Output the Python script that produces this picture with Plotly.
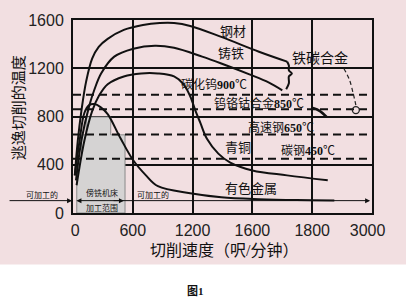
import plotly.graph_objects as go

# ---- data (x in equal-spaced tick index units; y in degrees) ----
tick_labels = ["\u00a00", "600", "1200", "1600", "1800", "3000\u00a0\u00a0"]
tick_pos = [0, 1, 2, 3, 4, 5]
y_ticks = [0, 400, 800, 1200, 1600]

steel_x = [0.03, 0.08, 0.14, 0.22, 0.32, 0.43, 0.58, 0.85, 1.17, 1.45, 1.69, 1.96, 2.48, 3.11, 3.58]
steel_y = [312, 599, 845, 1091, 1280, 1378, 1444, 1518, 1559, 1575, 1575, 1551, 1460, 1337, 1255]

iron_x = [0.05, 0.14, 0.27, 0.36, 0.47, 0.69, 1.01, 1.37, 1.69, 2.16, 2.48, 2.95, 3.27, 3.50]
iron_y = [271, 599, 886, 1026, 1157, 1296, 1362, 1387, 1370, 1296, 1239, 1149, 1083, 1017]

bronze_x = [0.06, 0.19, 0.32, 0.43, 0.58, 0.85, 1.14, 1.42, 1.69, 1.85, 1.96, 2.05, 2.13, 2.24, 2.43, 2.63, 3.00, 3.58, 4.26]
bronze_y = [230, 599, 845, 968, 1067, 1132, 1157, 1157, 1132, 1067, 968, 845, 747, 615, 492, 418, 353, 312, 271]

nonfer_x = [0.03, 0.11, 0.19, 0.27, 0.36, 0.46, 0.58, 0.79, 1.01, 1.22, 1.42, 1.96, 2.48, 3.11, 3.74, 4.37]
nonfer_y = [312, 599, 829, 894, 903, 878, 820, 624, 435, 312, 222, 164, 131, 115, 107, 104]

bracket_x = [3.58, 3.61, 3.61, 3.66, 3.61, 3.61, 3.565]
bracket_y = [1255, 1223, 1182, 1157, 1132, 1075, 1026]

fec_dash_x = [4.53, 4.62, 4.685, 4.73]
fec_dash_y = [1198, 1108, 993, 894]
fec_circle_x = [4.73]
fec_circle_y = [853]

arc_x = [4.01, 4.13, 4.24]
arc_y = [870, 845, 796]

limit_vals = [980, 860, 650, 450]   # dashed temperature limits

gray_x = [0.063, 0.063, 0.142, 0.142, 0.221, 0.221, 0.631, 0.631, 0.87, 0.87, 0.063]
gray_y = [0, 451, 451, 648, 648, 796, 796, 648, 648, 0, 0]

labels = [
    ("钢材", 2.68, 1502, 13),
    ("铸铁", 2.65, 1321, 13),
    ("碳化钨<b>900</b>℃", 2.35, 1067, 12),
    ("钨铬钴合金<b>850</b>℃", 3.11, 911, 12),
    ("高速钢<b>650</b>℃", 3.47, 706, 12),
    ("青铜", 2.76, 542, 13),
    ("碳钢<b>450</b>℃", 3.93, 517, 12),
    ("有色金属", 2.98, 205, 13),
    ("铁碳合金", 4.13, 1280, 14),
]

PINK = "#f2dfe1"
CJK = "Liberation Serif, Noto Sans CJK SC"

fig = go.Figure()

fig.add_trace(go.Scatter(x=gray_x, y=gray_y, fill="toself", fillcolor="#d5d3d3",
                         line=dict(color="#8a8a8a", width=1), mode="lines",
                         hoverinfo="skip", showlegend=False))

for v in limit_vals:
    fig.add_trace(go.Scatter(x=[0, 5], y=[v, v], mode="lines",
                             line=dict(color="#111", width=2, dash="8px,5px"),
                             showlegend=False, hoverinfo="skip"))

for xs, ys in [(steel_x, steel_y), (iron_x, iron_y), (bronze_x, bronze_y),
               (nonfer_x, nonfer_y), (bracket_x, bracket_y)]:
    fig.add_trace(go.Scatter(x=xs, y=ys, mode="lines", line=dict(color="#111", width=2, shape="spline"),
                             showlegend=False, hoverinfo="skip"))

fig.add_trace(go.Scatter(x=arc_x, y=arc_y, mode="lines", line=dict(color="#111", width=2.5, shape="spline"),
                         showlegend=False, hoverinfo="skip"))
fig.add_trace(go.Scatter(x=fec_dash_x, y=fec_dash_y, mode="lines",
                         line=dict(color="#222", width=1.2, dash="4px,3px", shape="spline"),
                         showlegend=False, hoverinfo="skip"))
fig.add_trace(go.Scatter(x=fec_circle_x, y=fec_circle_y, mode="markers",
                         marker=dict(symbol="circle-open", size=7, color="#222", line=dict(width=1.3)),
                         showlegend=False, hoverinfo="skip"))

annotations = []
for t, x, y, s in labels:
    annotations.append(dict(text=t, x=x, y=y, xref="x", yref="y", showarrow=False,
                            xanchor="center", yanchor="middle",
                            font=dict(family=CJK, size=s, color="#111")))

def px(p):
    return (p - 73) / 317.0

def py(p):
    return (213 - p) / 195.0

def txt(t, x, y, size, angle=0):
    return dict(x=px(x), y=py(y), xref="paper", yref="paper", text=t, showarrow=False,
                xanchor="center", yanchor="middle", textangle=angle,
                font=dict(family=CJK, size=size, color="#111"))

arrow_y = py(200.5)
# left arrow
annotations.append(dict(x=px(72), y=arrow_y, xref="paper", yref="paper", ax=-64, ay=0,
                        showarrow=True, arrowhead=2, arrowsize=1, arrowwidth=1, arrowcolor="#111", text=""))
annotations.append(txt("可加工的", 40, 195, 8))
# middle double arrow
annotations.append(dict(x=px(127), y=arrow_y, xref="paper", yref="paper", ax=-49, ay=0,
                        showarrow=True, arrowhead=2, startarrowhead=2, arrowside="end+start",
                        arrowsize=1, arrowwidth=1, arrowcolor="#111", text=""))
annotations.append(txt("傍铣机床", 104, 193, 8))
annotations.append(txt("加工范围", 104, 207.5, 8))
# right arrow
annotations.append(dict(x=px(388), y=arrow_y, xref="paper", yref="paper", ax=-258, ay=0,
                        showarrow=True, arrowhead=2, arrowsize=1, arrowwidth=1, arrowcolor="#111", text=""))
annotations.append(txt("可加工的", 158, 194.5, 8))
# axis titles and caption
annotations.append(txt("切削速度（呎/分钟）", 233, 251, 16))
annotations.append(txt("逃逸切削的温度", 16, 107, 15, -90))
annotations.append(txt("<b>图1</b>", 203, 292, 11))

fig.update_layout(
    width=406, height=306,
    margin=dict(l=73, r=16, t=18, b=93),
    paper_bgcolor="white", plot_bgcolor=PINK,
    annotations=annotations,
    shapes=[dict(type="rect", xref="paper", yref="paper", x0=-0.3, x1=1.2, y0=py(265), y1=1.2,
                 fillcolor=PINK, line=dict(width=0), layer="below")],
    xaxis=dict(range=[0, 5], tickvals=tick_pos, ticktext=tick_labels, showgrid=True,
               gridcolor="#111", gridwidth=2, showline=True, mirror=True, linecolor="#111",
               linewidth=2, zeroline=False, ticks="", ticklabelstandoff=2, ticklabeloverflow="allow",
               tickfont=dict(family="Liberation Sans, Arial", size=16, color="#222")),
    yaxis=dict(range=[0, 1600], tickvals=y_ticks, showgrid=True, gridcolor="#111", gridwidth=2,
               showline=True, mirror=True, linecolor="#111", linewidth=2, zeroline=False, ticks="",
               ticklabelstandoff=4, ticklabeloverflow="allow",
               tickfont=dict(family="Liberation Sans, Arial", size=16, color="#222")),
)

fig.write_html("out.html")
